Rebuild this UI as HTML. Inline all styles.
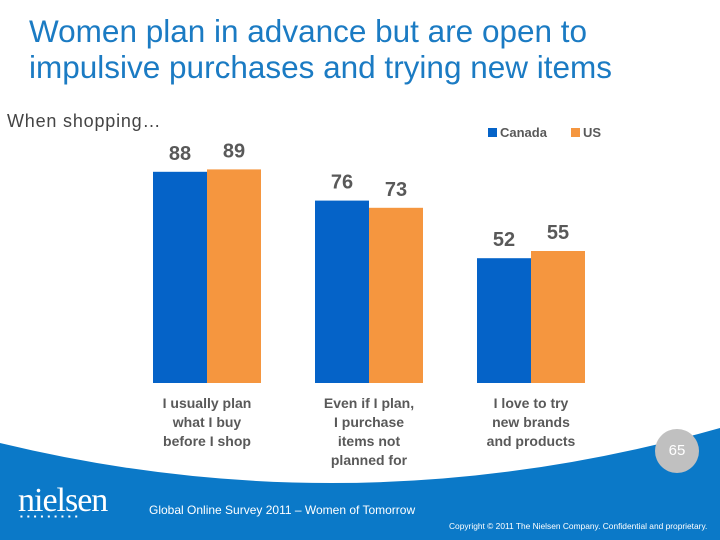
<!DOCTYPE html>
<html><head><meta charset="utf-8"><style>
body{margin:0;width:720px;height:540px;overflow:hidden;background:#fff;font-family:"Liberation Sans",sans-serif;position:relative}
.t{position:absolute;white-space:nowrap}
</style></head><body>
<div class="t" style="left:29px;top:13px;font-size:31.5px;line-height:36px;color:#1b7bc3">Women plan in advance but are open to<br>impulsive purchases and trying new items</div>
<div class="t" style="left:7px;top:111px;font-size:18px;letter-spacing:0.8px;color:#444">When shopping…</div>
<svg id="c" width="720" height="540" style="position:absolute;left:0;top:0">
<path d="M0,443 Q360,530 720,428 L720,540 L0,540 Z" fill="#0b79c8"/>
</svg>
<div class="t" style="left:149px;top:503px;font-size:12px;color:#fff">Global Online Survey 2011 – Women of Tomorrow</div>
<div class="t" style="left:449px;top:521px;font-size:8.4px;color:#fff">Copyright © 2011 The Nielsen Company. Confidential and proprietary.</div>
<div class="t" style="left:18px;top:482px;font-family:'Liberation Serif',serif;font-size:34px;color:#fff;letter-spacing:-1px">nielsen</div>
<div class="t" style="left:20px;top:512px;font-size:8px;color:#fff;letter-spacing:4px">▪▪▪▪▪▪▪▪▪</div>
<div class="t" style="left:655px;top:429px;width:44px;height:44px;border-radius:50%;background:#c0c0c0;color:#fff;font-size:15px;text-align:center;line-height:44px">65</div>
<script>
const categories=[["I usually plan","what I buy","before I shop"],["Even if I plan,","I purchase","items not","planned for"],["I love to try","new brands","and products"]];
const canada=[88,76,52];
const us=[89,73,55];
const seriesNames=["Canada","US"];
const colors=["#0563c8","#f5963f"];
const svg=document.getElementById('c');const NS='http://www.w3.org/2000/svg';
const base=383,scale=2.4,x0=153,gap=162,bw=54;
const y=v=>base-v*scale;
function mk(t,a){const e=document.createElementNS(NS,t);for(const k in a)e.setAttribute(k,a[k]);svg.appendChild(e);return e;}
[canada,us].forEach((s,si)=>s.forEach((v,i)=>{
 const x=x0+i*gap+si*bw;
 const r=mk('rect',{x:x,y:y(v),width:bw,height:v*scale,fill:colors[si]});
 
 
 const t=mk('text',{x:x+bw/2,y:y(v)-12,'text-anchor':'middle','font-size':20,'font-weight':'bold',fill:'#595959','font-family':'Liberation Sans'});
 t.textContent=v;
 
 
}));
categories.forEach((lines,i)=>lines.forEach((l,j)=>{
 const t=mk('text',{x:x0+i*gap+bw,y:408+j*19,'text-anchor':'middle','font-size':14,'font-weight':'bold',fill:'#595959','font-family':'Liberation Sans'});
 t.textContent=l;
 
 
}));
const lx=[488,571];
seriesNames.forEach((n,i)=>{
 const r=mk('rect',{x:lx[i],y:128,width:9,height:9,fill:colors[i]});
 
 
 const t=mk('text',{x:lx[i]+12,y:137,'font-size':13,'font-weight':'bold',fill:'#595959','font-family':'Liberation Sans'});
 t.textContent=n;
 
 
});
</script>
</body></html>
